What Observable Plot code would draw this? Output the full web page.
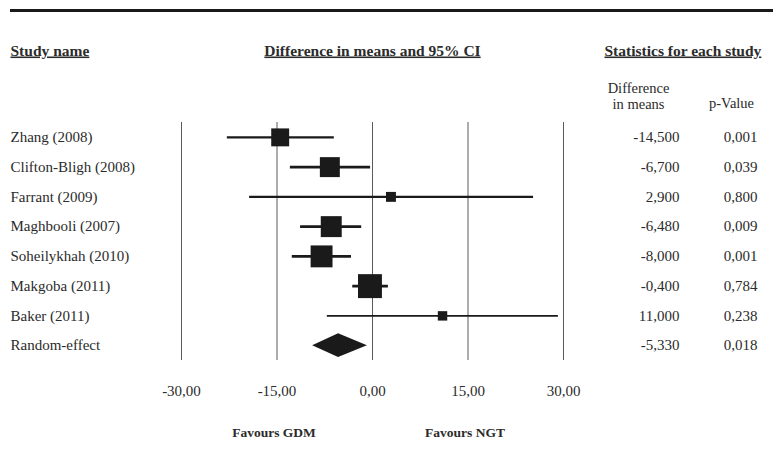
<!DOCTYPE html>
<html>
<head>
<meta charset="utf-8">
<script src="https://cdn.jsdelivr.net/npm/d3@7"></script>
<script src="https://cdn.jsdelivr.net/npm/@observablehq/plot@0.6"></script>
<style>
  html, body { margin: 0; padding: 0; background: white; }
  #wrap { position: relative; width: 773px; height: 463px; }
  #toprule { position: absolute; left: 10px; right: 0; top: 9px; height: 3px; background: #1a1a1a; }
  #chart { position: absolute; left: 0; top: 0; }
</style>
</head>
<body>
<div id="wrap">
  <div id="chart"></div>
  <div id="toprule"></div>
</div>
<script>
// ---- data ----
const studies = ["Zhang (2008)", "Clifton-Bligh (2008)", "Farrant (2009)", "Maghbooli (2007)", "Soheilykhah (2010)", "Makgoba (2011)", "Baker (2011)"];
const diffMeans = [-14.5, -6.7, 2.9, -6.48, -8.0, -0.4, 11.0];
const lowerCI = [-22.8, -12.9, -19.3, -11.3, -12.6, -3.1, -7.1];
const upperCI = [-6.0, -0.3, 25.3, -1.7, -3.3, 2.5, 29.2];
const pValues = [0.001, 0.039, 0.800, 0.009, 0.001, 0.784, 0.238];
const weights = [13.4, 16.6, 4.1, 18.3, 20.0, 23.9, 3.7];
const pooledLabel = "Random-effect";
const pooledDiff = -5.33;
const pooledLower = -9.4;
const pooledUpper = -0.8;
const pooledP = 0.018;
const xTicks = [-30, -15, 0, 15, 30];
const headers = ["Study name", "Difference in means and 95% CI", "Statistics for each study"];
const favours = [{x: -15, label: "Favours GDM"}, {x: 15, label: "Favours NGT"}];

// ---- build table ----
const rows = studies.map((s, i) => ({
  idx: i, name: s, diff: diffMeans[i], lo: lowerCI[i], hi: upperCI[i], p: pValues[i], w: weights[i]
}));
const pooledIdx = studies.length;
const allRows = rows.concat([{idx: pooledIdx, name: pooledLabel, diff: pooledDiff, lo: pooledLower, hi: pooledUpper, p: pooledP}]);
const dh = 0.4; // half-height of the diamond in row units
const diamond = [
  {y: pooledIdx - dh, x1: pooledDiff, x2: pooledDiff},
  {y: pooledIdx, x1: pooledLower, x2: pooledUpper},
  {y: pooledIdx + dh, x1: pooledDiff, x2: pooledDiff}
];
const comma = (v, n) => v.toFixed(n).replace(".", ",");

const ink = "#1a1a1a";
const txt = "#2b2b2b";

const chart = Plot.plot({
  width: 773,
  height: 463,
  marginLeft: 181,
  marginRight: 210,
  marginTop: 122,
  marginBottom: 103,
  style: {fontFamily: "'Liberation Serif', 'Times New Roman', serif", fontSize: "15px", color: txt, background: "white", overflow: "visible"},
  x: {domain: [-30, 30], ticks: xTicks, tickFormat: d => comma(d, 2), tickSize: 0, tickPadding: 25, label: null},
  y: {domain: [-0.5, pooledIdx + 0.5], reverse: true, axis: null},
  r: {type: "sqrt", domain: [0, 24], range: [0, 24 / Math.sqrt(Math.PI)]},
  marks: [
    Plot.ruleX(xTicks, {stroke: "#5a5a5a", strokeWidth: 1}),
    Plot.ruleY(rows, {y: "idx", x1: "lo", x2: "hi", stroke: ink, strokeWidth: d => 1.8 + d.w * 0.05}),
    Plot.dot(rows, {x: "diff", y: "idx", r: "w", symbol: "square", fill: ink, stroke: "none"}),
    Plot.areaX(diamond, {y: "y", x1: "x1", x2: "x2", fill: ink, curve: "linear"}),
    // table text
    Plot.text(allRows, {y: "idx", text: "name", frameAnchor: "left", dx: -171, textAnchor: "start", fill: txt}),
    Plot.text(allRows, {y: "idx", text: d => comma(d.diff, 3), frameAnchor: "right", dx: 116, textAnchor: "end", fill: txt}),
    Plot.text(allRows, {y: "idx", text: d => comma(d.p, 3), frameAnchor: "right", dx: 194, textAnchor: "end", fill: txt}),
    // headers
    Plot.text([headers[0]], {text: d => d, frameAnchor: "top-left", dx: -171, dy: -78, textAnchor: "start", fontWeight: "bold", fontSize: 15.5, fill: txt}),
    Plot.text([headers[1]], {x: () => 0, text: d => d, frameAnchor: "top", dy: -78, textAnchor: "middle", fontWeight: "bold", fontSize: 15.5, fill: txt}),
    Plot.text([headers[2]], {text: d => d, frameAnchor: "top-right", dx: 41, dy: -78, textAnchor: "start", fontWeight: "bold", fontSize: 15.5, fill: txt}),
    Plot.text(["Difference\nin means"], {text: d => d, frameAnchor: "top-right", dx: 75, dy: -40, textAnchor: "middle", lineHeight: 1.05, fontSize: 14.5, fill: txt}),
    Plot.text(["p-Value"], {text: d => d, frameAnchor: "top-right", dx: 168, dy: -25, textAnchor: "middle", fontSize: 14.5, fill: txt}),
    // favours labels
    Plot.text(favours, {x: "x", text: "label", frameAnchor: "bottom", dx: -3, dy: 76, textAnchor: "middle", fontWeight: "bold", fontSize: 13.5, fill: txt})
  ]
});

d3.select(chart).selectAll("text")
  .filter(function() { return headers.includes(this.textContent); })
  .style("text-decoration", "underline");

document.getElementById("chart").appendChild(chart);
</script>
</body>
</html>
